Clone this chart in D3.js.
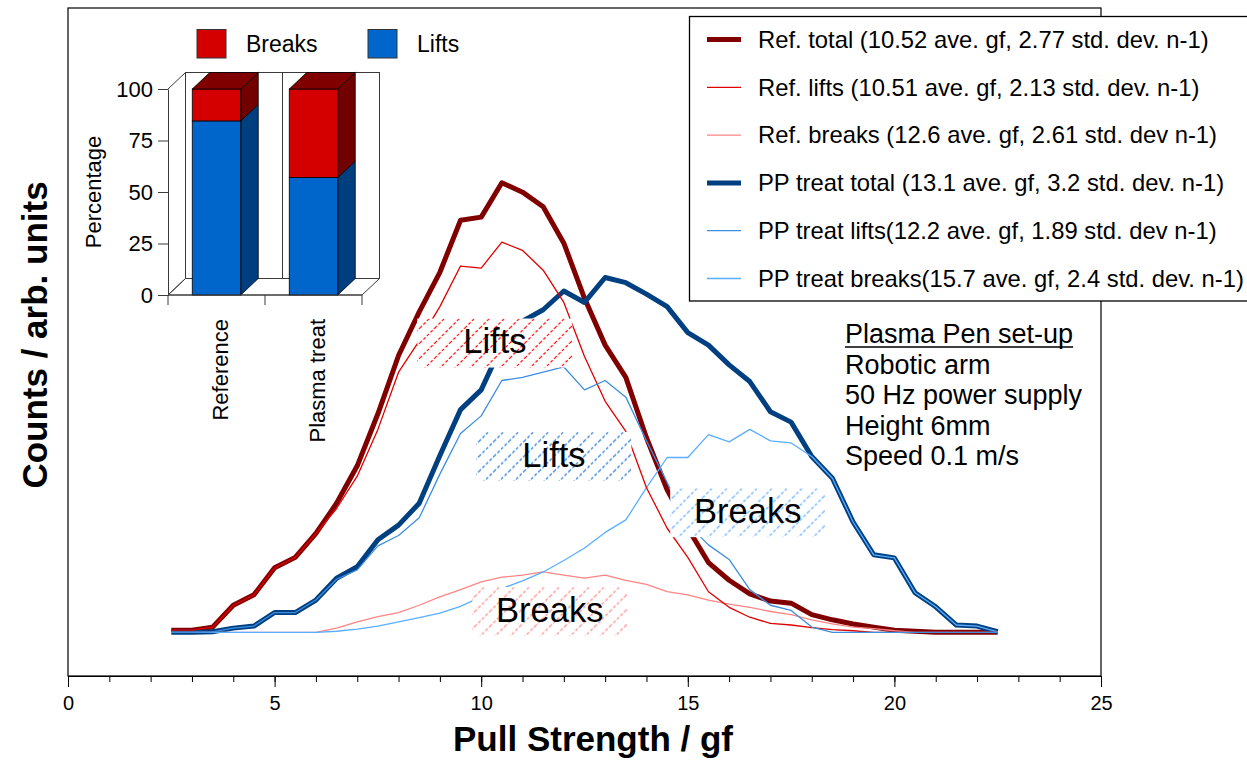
<!DOCTYPE html>
<html>
<head>
<meta charset="utf-8">
<script src="https://cdn.jsdelivr.net/npm/d3@7"></script>
<style>
  body { margin: 0; background: #fff; }
  svg text { font-family: "Liberation Sans", Arial, sans-serif; fill: #000; }
</style>
</head>
<body>
<div id="chart"></div>
<script>
// ---- data ----
const pullStrength = [2.5, 3, 3.5, 4, 4.5, 5, 5.5, 6, 6.5, 7, 7.5, 8, 8.5, 9, 9.5, 10,
  10.5, 11, 11.5, 12, 12.5, 13, 13.5, 14, 14.5, 15, 15.5, 16, 16.5, 17, 17.5, 18,
  18.5, 19, 19.5, 20, 20.5, 21, 21.5, 22, 22.5];

const refTotal = [0.2, 0.2, 0.5, 2.6, 3.6, 6.2, 7.2, 9.5,
  12.4, 16.0, 21.0, 26.6, 30.8, 34.6, 39.6, 39.9,
  43.2, 42.3, 40.9, 37.4, 32.1, 27.6, 24.5, 18.7,
  13.7, 10.0, 6.7, 5.0, 3.7, 3.0, 2.8, 1.7,
  1.2, 0.8, 0.5, 0.2, 0.1, 0, 0, 0, 0];
const refLifts = [0.2, 0.2, 0.5, 2.6, 3.6, 6.2, 7.2, 9.5,
  11.9, 15.0, 19.5, 25.0, 28.0, 31.3, 35.2, 35.0,
  37.5, 36.7, 34.8, 31.7, 26.5, 22.2, 19.3, 13.9,
  10.0, 7.2, 3.9, 2.4, 1.45, 0.85, 0.7, 0.45,
  0.25, 0.15, 0, 0, 0, 0, 0, 0, 0];
const refBreaks = [0, 0, 0, 0, 0, 0, 0, 0,
  0.4, 1.0, 1.5, 1.9, 2.6, 3.4, 4.1, 4.85,
  5.3, 5.5, 5.8, 5.5, 5.2, 5.5, 5.0, 4.6,
  3.9, 3.6, 3.1, 2.7, 2.4, 2.0, 1.7, 1.2,
  0.8, 0.5, 0.35, 0.15, 0, 0, 0, 0, 0];
const ppTotal = [0, 0, 0.05, 0.4, 0.6, 1.9, 1.9, 3.1,
  5.2, 6.3, 8.9, 10.3, 12.4, 17.0, 21.4, 23.3,
  27.6, 29.9, 31.0, 32.8, 31.7, 34.1, 33.6, 32.5,
  31.3, 28.8, 27.6, 25.7, 24.1, 21.2, 20.2, 16.9,
  14.8, 10.6, 7.45, 7.15, 3.8, 2.45, 0.7, 0.6, 0.05];
const ppLifts = [0, 0, 0.05, 0.4, 0.6, 1.9, 1.9, 3.1,
  5.1, 6.0, 8.3, 9.3, 11.0, 15.2, 19.1, 20.8,
  24.2, 24.5, 25.0, 25.5, 23.3, 24.2, 22.6, 18.4,
  14.4, 10.4, 8.4, 7.0, 4.1, 2.6, 2.1, 0.5,
  0, 0, 0, 0, 0, 0, 0, 0, 0];
const ppBreaks = [0, 0, 0, 0, 0, 0, 0, 0,
  0.1, 0.3, 0.6, 1.0, 1.4, 1.85, 2.5, 3.4,
  4.2, 4.95, 5.8, 6.9, 8.1, 9.6, 10.8, 13.9,
  16.8, 16.8, 19.0, 18.3, 19.5, 18.4, 18.2, 16.9,
  14.8, 10.6, 7.45, 7.15, 3.8, 2.45, 0.7, 0.6, 0.05];

const legendLabels = [
  "Ref. total (10.52 ave. gf, 2.77 std. dev. n-1)",
  "Ref. lifts (10.51 ave. gf, 2.13 std. dev. n-1)",
  "Ref. breaks (12.6 ave. gf, 2.61 std. dev n-1)",
  "PP treat total (13.1 ave. gf, 3.2 std. dev. n-1)",
  "PP treat lifts(12.2 ave. gf, 1.89 std. dev n-1)",
  "PP treat breaks(15.7 ave. gf, 2.4 std. dev. n-1)"
];

const xTicks = [0, 5, 10, 15, 20, 25];

// inset bar chart
const barCategories = ["Reference", "Plasma treat"];
const barLifts = [84.5, 57];
const barBreaks = [15.5, 43];
const percentTicks = [0, 25, 50, 75, 100];

const setupLines = ["Plasma Pen set-up", "Robotic arm", "50 Hz power supply", "Height 6mm", "Speed 0.1 m/s"];

// hatched labels, placed in data units (gf, counts)
const annotations = [
  { label: "Lifts",  gf: 10.33, count: 27.8, hatch: "#ff0000" },
  { label: "Lifts",  gf: 11.76, count: 16.9, hatch: "#1a6fd6" },
  { label: "Breaks", gf: 16.45, count: 11.5, hatch: "#5aa8ff" },
  { label: "Breaks", gf: 11.66, count: 2.0,  hatch: "#ff8080" }
];

// --- SVG root ---
const svg = d3.select("#chart")
  .append("svg")
  .attr("width", 1247)
  .attr("height", 764);

// --- Scales ---
const x = d3.scaleLinear().domain([0, 25]).range([68, 1101]);
const y = d3.scaleLinear().domain([-4.2, 60]).range([676, 8]);

// plot frame
svg.append("rect")
  .attr("x", 68).attr("y", 8)
  .attr("width", 1033).attr("height", 668)
  .attr("fill", "none")
  .attr("stroke", "#000")
  .attr("stroke-width", 1.2);

// x axis: minor ticks every 1, major every 5
const minorAxis = d3.axisBottom(x)
  .tickValues(d3.range(0, 26))
  .tickSize(6)
  .tickSizeOuter(0)
  .tickFormat("");
svg.append("g")
  .attr("transform", "translate(0,676)")
  .call(minorAxis)
  .call(g => g.select(".domain").remove());

const majorAxis = d3.axisBottom(x)
  .tickValues(xTicks)
  .tickSize(11)
  .tickSizeOuter(0)
  .tickPadding(9);
svg.append("g")
  .attr("transform", "translate(0,676)")
  .call(majorAxis)
  .call(g => g.select(".domain").attr("stroke-width", 1.2))
  .call(g => g.selectAll("text")
    .style("font-family", "'Liberation Sans', Arial, sans-serif")
    .style("font-size", "20px"));

// axis titles
svg.append("text")
  .text("Pull Strength / gf")
  .attr("x", 593).attr("y", 751)
  .attr("text-anchor", "middle")
  .style("font-size", "35px")
  .style("font-weight", "bold");

svg.append("text")
  .text("Counts / arb. units")
  .attr("transform", "translate(47,335) rotate(-90)")
  .attr("text-anchor", "middle")
  .style("font-size", "35px")
  .style("font-weight", "bold");

// --- curves ---
const series = [
  { name: legendLabels[0], values: refTotal,  color: "#800000", width: 5 },
  { name: legendLabels[1], values: refLifts,  color: "#e00000", width: 1.3 },
  { name: legendLabels[2], values: refBreaks, color: "#ff8585", width: 1.3 },
  { name: legendLabels[3], values: ppTotal,   color: "#004080", width: 5 },
  { name: legendLabels[4], values: ppLifts,   color: "#3d8ee0", width: 1.3 },
  { name: legendLabels[5], values: ppBreaks,  color: "#5aaeff", width: 1.3 }
];

const line = d3.line()
  .x((d, i) => x(pullStrength[i]))
  .y(d => y(d));

// totals first, thin lines on top
const drawOrder = [0, 3, 2, 5, 1, 4];
svg.append("g")
  .selectAll("path")
  .data(drawOrder.map(i => series[i]))
  .join("path")
  .attr("d", d => line(d.values))
  .attr("fill", "none")
  .attr("stroke", d => d.color)
  .attr("stroke-width", d => d.width)
  .attr("stroke-linejoin", "round");

// --- hatched label boxes ---
const defs = svg.append("defs");
annotations.forEach((a, i) => {
  const p = defs.append("pattern")
    .attr("id", "hatch" + i)
    .attr("patternUnits", "userSpaceOnUse")
    .attr("width", 15).attr("height", 15);
  p.append("path")
    .attr("d", "M0,15 L15,0 M-4,4 L4,-4 M11,19 L19,11")
    .attr("stroke", a.hatch)
    .attr("stroke-width", 1.2)
    .attr("stroke-dasharray", "3 2");
});

const boxW = 155, boxH = 49;
const ann = svg.append("g")
  .selectAll("g")
  .data(annotations)
  .join("g")
  .attr("transform", d => `translate(${x(d.gf)}, ${y(d.count)})`);

ann.append("rect")
  .attr("x", -boxW / 2).attr("y", -boxH / 2)
  .attr("width", boxW).attr("height", boxH)
  .attr("fill", "#fff");
ann.append("rect")
  .attr("x", -boxW / 2).attr("y", -boxH / 2)
  .attr("width", boxW).attr("height", boxH)
  .attr("fill", (d, i) => `url(#hatch${i})`);
ann.append("text")
  .text(d => d.label)
  .attr("text-anchor", "middle")
  .attr("dy", "0.3em")
  .style("font-size", "34.5px");

// --- set-up text ---
const setup = svg.append("g");
setup.selectAll("text")
  .data(setupLines)
  .join("text")
  .text(d => d)
  .attr("x", 845)
  .attr("y", (d, i) => 343 + i * 30.5)
  .style("font-size", "27px");
const firstLen = setup.select("text").node().getComputedTextLength();
setup.append("line")
  .attr("x1", 845).attr("x2", 845 + firstLen)
  .attr("y1", 347).attr("y2", 347)
  .attr("stroke", "#000")
  .attr("stroke-width", 1.5);

// --- legend ---
const legend = svg.append("g");
legend.append("rect")
  .attr("x", 689.5).attr("y", 16.5)
  .attr("width", 600).attr("height", 284.5)
  .attr("fill", "#fff")
  .attr("stroke", "#000")
  .attr("stroke-width", 1.3);

const rows = legend.selectAll("g.row")
  .data(series)
  .join("g")
  .attr("class", "row")
  .attr("transform", (d, i) => `translate(0, ${39.5 + i * 47.8})`);
rows.append("line")
  .attr("x1", 707).attr("x2", 741)
  .attr("stroke", d => d.color)
  .attr("stroke-width", d => d.width);
rows.append("text")
  .text(d => d.name)
  .attr("x", 758)
  .attr("y", 8.3)
  .style("font-size", "23.8px");

// --- inset 3D stacked bar chart ---
const inset = svg.append("g");
const px = d3.scaleBand()
  .domain(barCategories)
  .range([168, 362])
  .paddingInner(0.5)
  .paddingOuter(0.25);
const py = d3.scaleLinear().domain([0, 100]).range([295, 89]);
const dx = 17.5, dy = -16.5;
const xL = px.range()[0], xR = px.range()[1];
const y0 = py(0), y100 = py(100);
const wallStroke = "#3a3a3a";

// back wall
inset.append("rect")
  .attr("x", xL + dx).attr("y", y100 + dy)
  .attr("width", xR - xL).attr("height", y0 - y100)
  .attr("fill", "#fff").attr("stroke", wallStroke);
// floor
inset.append("polygon")
  .attr("points", [[xL, y0], [xR, y0], [xR + dx, y0 + dy], [xL + dx, y0 + dy]].join(" "))
  .attr("fill", "#fff").attr("stroke", wallStroke);
// left wall top edge
inset.append("line")
  .attr("x1", xL).attr("y1", y100).attr("x2", xL + dx).attr("y2", y100 + dy)
  .attr("stroke", wallStroke);
// category divider on the back wall
const mid = (px(barCategories[0]) + px.bandwidth() + px(barCategories[1])) / 2;
inset.append("line")
  .attr("x1", mid + dx).attr("x2", mid + dx)
  .attr("y1", y100 + dy).attr("y2", y0 + dy)
  .attr("stroke", wallStroke);

// bars
const bw = px.bandwidth();
barCategories.forEach((c, i) => {
  const x0 = px(c), x1 = x0 + bw;
  const segs = [
    { v0: 0, v1: barLifts[i], front: "#0066cc", side: "#003f7f" },
    { v0: barLifts[i], v1: barLifts[i] + barBreaks[i], front: "#d40000", side: "#720000" }
  ];
  segs.forEach((s, k) => {
    const yt = py(s.v1), yb = py(s.v0);
    inset.append("polygon")
      .attr("points", [[x1, yt], [x1 + dx, yt + dy], [x1 + dx, yb + dy], [x1, yb]].join(" "))
      .attr("fill", s.side).attr("stroke", "#000").attr("stroke-width", 0.8);
    inset.append("rect")
      .attr("x", x0).attr("y", yt)
      .attr("width", bw).attr("height", yb - yt)
      .attr("fill", s.front).attr("stroke", "#000").attr("stroke-width", 0.8);
    if (k === segs.length - 1) {
      inset.append("polygon")
        .attr("points", [[x0, yt], [x0 + dx, yt + dy], [x1 + dx, yt + dy], [x1, yt]].join(" "))
        .attr("fill", "#800000").attr("stroke", "#000").attr("stroke-width", 0.8);
    }
  });
});

// inset y axis
inset.append("g")
  .attr("transform", `translate(${xL},0)`)
  .call(d3.axisLeft(py).tickValues(percentTicks).tickSize(10).tickPadding(5).tickSizeOuter(0))
  .call(g => g.selectAll("line, path").attr("stroke", wallStroke))
  .call(g => g.selectAll("text")
    .style("font-family", "'Liberation Sans', Arial, sans-serif")
    .style("font-size", "22px"));

// inset x axis (front floor edge)
inset.append("line")
  .attr("x1", xL).attr("x2", xR).attr("y1", y0).attr("y2", y0)
  .attr("stroke", wallStroke);
inset.append("line")
  .attr("x1", xL).attr("y1", y0).attr("x2", xL + dx).attr("y2", y0 + dy)
  .attr("stroke", wallStroke);
inset.selectAll("line.cattick")
  .data([xL, mid, xR])
  .join("line")
  .attr("class", "cattick")
  .attr("x1", d => d).attr("x2", d => d)
  .attr("y1", y0).attr("y2", y0 + 10)
  .attr("stroke", wallStroke);

inset.selectAll("text.cat")
  .data(barCategories)
  .join("text")
  .attr("class", "cat")
  .text(d => d)
  .attr("transform", d => `translate(${px(d) + bw / 2 + 11}, 319) rotate(-90)`)
  .attr("text-anchor", "end")
  .style("font-size", "22px");

inset.append("text")
  .text("Percentage")
  .attr("transform", "translate(101,192) rotate(-90)")
  .attr("text-anchor", "middle")
  .style("font-size", "22px");

// inset legend
const insetKeys = [
  { label: "Breaks", color: "#d40000", x: 197 },
  { label: "Lifts",  color: "#0066cc", x: 368 }
];
const keys = inset.selectAll("g.key")
  .data(insetKeys)
  .join("g")
  .attr("class", "key");
keys.append("rect")
  .attr("x", d => d.x).attr("y", 29.5)
  .attr("width", 29).attr("height", 28.5)
  .attr("fill", d => d.color)
  .attr("stroke", "#333");
keys.append("text")
  .text(d => d.label)
  .attr("x", d => d.x + 49)
  .attr("y", 51.5)
  .style("font-size", "23px");
</script>
</body>
</html>
